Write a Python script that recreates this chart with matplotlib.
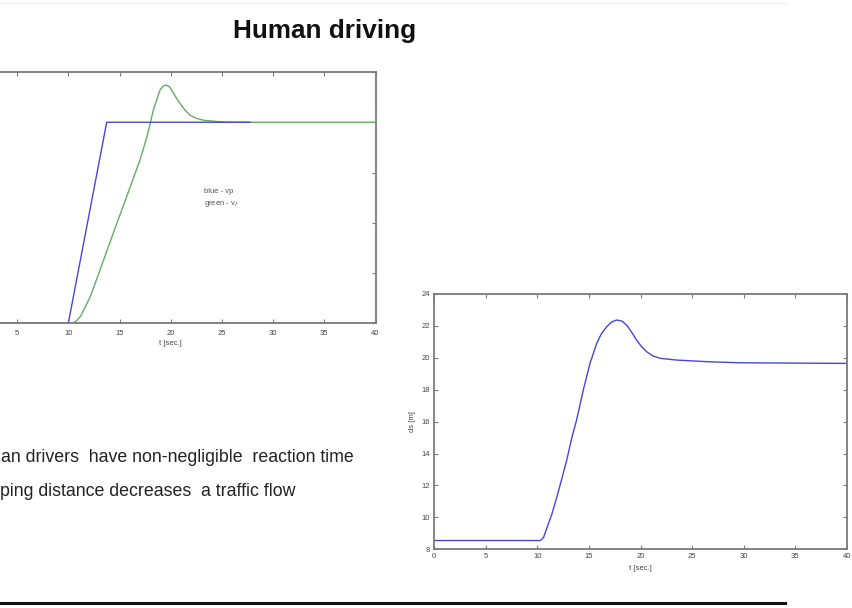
import matplotlib
matplotlib.use("Agg")
import matplotlib.pyplot as plt
from matplotlib.lines import Line2D

plt.rcParams['font.family'] = ['Liberation Sans', 'DejaVu Sans']

# ---- velocity response (left panel) ----
t_lead = [0, 10, 13.75, 27.75]
v_lead = [0, 0, 20, 20]

t_follow = [0, 10.3, 10.7, 11.2, 12.15, 13.1, 14.4, 15.7, 17.0, 17.7, 18.3, 18.95,
            19.25, 19.55, 19.85, 20.1, 20.5, 20.9, 21.4, 21.9, 22.5, 23.2, 24.8, 26.0, 40]
v_follow = [0, 0, 0.15, 0.7, 2.65, 5.3, 9.0, 12.6, 16.25, 18.6, 21.2, 23.2,
            23.6, 23.7, 23.55, 23.2, 22.5, 21.9, 21.2, 20.7, 20.4, 20.2, 20.05, 20.0, 20.0]

# ---- gap distance response (right panel) ----
t_gap = [0, 10.3, 10.6, 10.9, 11.4, 11.9, 12.4, 12.85, 13.3, 13.8, 14.45, 15.1, 15.75,
         16.2, 16.72, 17.2, 17.69, 18.2, 18.66, 19.15, 19.63, 20.1, 20.6, 21.2, 21.9,
         23.5, 26.7, 29.6, 40]
d_gap = [8.55, 8.55, 8.75, 9.3, 10.2, 11.3, 12.5, 13.6, 14.9, 16.1, 17.98, 19.65, 20.9,
         21.5, 21.95, 22.25, 22.37, 22.3, 22.05, 21.6, 21.1, 20.7, 20.38, 20.12, 19.97,
         19.86, 19.75, 19.69, 19.65]

x_ticks = [0, 5, 10, 15, 20, 25, 30, 35, 40]
v_ticks = [0, 5, 10, 15, 20, 25]
d_ticks = [8, 10, 12, 14, 16, 18, 20, 22, 24]

BLUE = '#4747d6'
GREEN = '#62ad62'
FRAME = '#7a7a7a'

W, H = 852, 608
fig = plt.figure(figsize=(W / 100, H / 100), dpi=100)
fig.patch.set_facecolor('white')


def px_axes(left, top, right, bottom):
    return fig.add_axes([left / W, 1 - bottom / H, (right - left) / W, (bottom - top) / H])


def matlab_style(ax):
    for s in ax.spines.values():
        s.set_color(FRAME)
        s.set_linewidth(1.3)
    ax.tick_params(direction='in', length=3, width=0.8, color=FRAME,
                   top=True, right=True, labelsize=5.5, labelcolor='#444444', pad=3)


# left panel (its left edge runs past the slide border)
ax1 = px_axes(-34.1, 72, 375.5, 323.3)
ax1.plot(t_follow, v_follow, color=GREEN, lw=1.0)
ax1.plot(t_lead, v_lead, color=BLUE, lw=1.0)
ax1.set_xlim(0, 40)
ax1.set_ylim(0, 25)
ax1.set_xticks(x_ticks[1:])
ax1.set_xticks([x_ticks[0]], minor=True)
ax1.set_yticks(v_ticks)
matlab_style(ax1)
ax1.tick_params(axis='x', pad=5)
ax1.tick_params(axis='y', labelleft=False)
ax1.tick_params(axis='x', which='minor', direction='in', length=3, color=FRAME, top=True)
ax1.set_xlabel('t [sec.]', fontsize=5.5, color='#444444', labelpad=2)
ax1.text(0.582, 0.5225, 'blue - vp', transform=ax1.transAxes, fontsize=5.5,
         color='#555555', va='center')
ax1.text(0.582, 0.478, 'green - v$_f$', transform=ax1.transAxes, fontsize=5.5,
         color='#555555', va='center')

# right panel
ax2 = px_axes(434.3, 294, 846.7, 549.3)
ax2.plot(t_gap, d_gap, color=BLUE, lw=1.0)
ax2.set_xlim(0, 40)
ax2.set_ylim(8, 24)
ax2.set_xticks(x_ticks)
ax2.set_yticks(d_ticks)
matlab_style(ax2)
ax2.set_xlabel('t [sec.]', fontsize=5.5, color='#444444', labelpad=3)
ax2.set_ylabel('ds [m]', fontsize=5.5, color='#444444', labelpad=4)

# slide title and text
fig.text(325 / W, 1 - 31 / H, 'Human driving', fontsize=18.8, fontweight='bold',
         ha='center', va='center', color='#111111')
fig.text(1 / W, 1 - 458 / H, 'an drivers  have non-negligible  reaction time',
         fontsize=12.8, ha='left', va='center', color='#222222')
fig.text(0 / W, 1 - 492 / H, 'ping distance decreases  a traffic flow',
         fontsize=12.8, ha='left', va='center', color='#222222')

# slide rules
fig.add_artist(Line2D([0, 785 / W], [1 - 603 / H, 1 - 603 / H], color='#111111', lw=2.2,
                      transform=fig.transFigure))
fig.add_artist(Line2D([0, 785 / W], [1 - 3 / H, 1 - 3 / H], color='#ededed', lw=1.0,
                      transform=fig.transFigure))

fig.savefig('out.png', dpi=100, facecolor='white')
